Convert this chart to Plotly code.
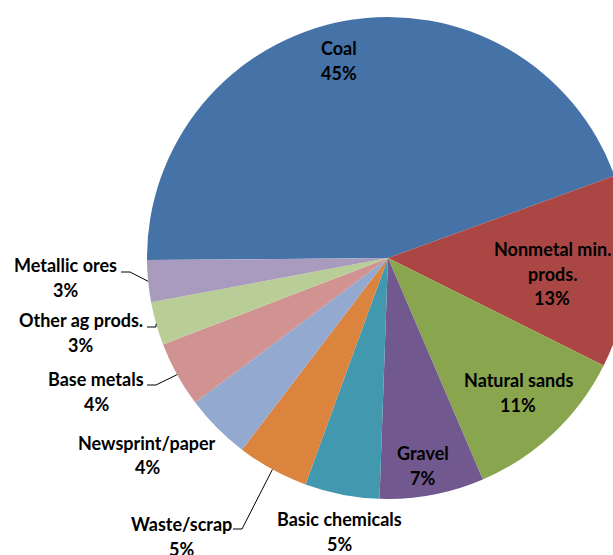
import math
import plotly.graph_objects as go

# ---- data ----
categories = ["Coal", "Nonmetal min. prods.", "Natural sands", "Gravel", "Basic chemicals",
              "Waste/scrap", "Newsprint/paper", "Base metals", "Other ag prods.", "Metallic ores"]
values = [44.6, 12.9, 11.2, 7.0, 5.0, 4.8, 4.4, 4.4, 2.9, 2.8]
label_lines = [["Coal"], ["Nonmetal min.", "prods."], ["Natural sands"], ["Gravel"],
               ["Basic chemicals"], ["Waste/scrap"], ["Newsprint/paper"], ["Base metals"],
               ["Other ag prods."], ["Metallic ores"]]

# ---- style / layout ----
colors = ["#4572A7", "#AA4643", "#89A54E", "#71588F", "#4198AF",
          "#DB843D", "#93A9CF", "#D19392", "#B9CD96", "#A99BBD"]
W, H = 630, 555
CX, CY, R = 388, 258, 241
ROT = -90.5
FONT = "Lato"
FSIZE = 18
LINE_H = 24.5
# label anchor (x centre px, y centre of first line px)
label_pos = [(339, 48), (552, 249), (518, 380), (423, 453), (339, 519),
             (182, 524), (147, 443), (96, 379), (81, 320), (65, 265)]
# leader line start (text end) for outside labels
leader_start = {5: (233, 529), 7: (147, 385), 8: (147, 327), 9: (121, 272)}
ELBOW = 9


def px(x):
    return x / W


def py(y):
    return 1 - y / H


fig = go.Figure(go.Pie(
    labels=categories, values=values, sort=False, direction="clockwise",
    rotation=ROT, textinfo="none", hoverinfo="label+percent",
    marker=dict(colors=colors, line=dict(width=0)),
    domain=dict(x=[px(CX - R), px(CX + R)], y=[py(CY + R), py(CY - R)]),
    showlegend=False,
))

total = sum(values)
annotations = []
shapes = []
cum = 0.0
for i, (v, lines) in enumerate(zip(values, label_lines)):
    pct = f"{round(100 * v / total):.0f}%"
    x0, y0 = label_pos[i]
    for k, t in enumerate(lines + [pct]):
        annotations.append(dict(
            x=px(x0), y=py(y0 + k * LINE_H), xref="paper", yref="paper",
            text=t, showarrow=False, xanchor="center", yanchor="middle",
            font=dict(family=FONT, size=FSIZE, color="#000000", weight="bold"),
        ))
    mid = math.radians(ROT + 360 * (cum + v / 2) / total)
    if i in leader_start:
        sx, sy = leader_start[i]
        ex = CX + R * math.sin(mid)
        ey = CY - R * math.cos(mid)
        path = (f"M {px(sx)} {py(sy)} L {px(sx + ELBOW)} {py(sy)} "
                f"L {px(ex)} {py(ey)}")
        shapes.append(dict(type="path", xref="paper", yref="paper", path=path,
                           line=dict(color="#000000", width=1)))
    cum += v

fig.update_layout(
    width=W, height=H, margin=dict(l=0, r=0, t=0, b=0),
    paper_bgcolor="white", plot_bgcolor="white",
    annotations=annotations, shapes=shapes,
)

fig.write_html("out.html", post_script=(
    "document.documentElement.style.overflow='hidden';"
    "document.body.style.overflow='hidden';"))
